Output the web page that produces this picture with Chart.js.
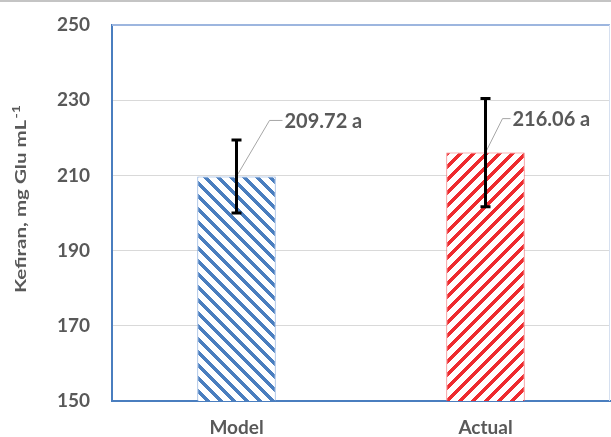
<!DOCTYPE html>
<html>
<head>
<meta charset="utf-8">
<script src="https://cdn.jsdelivr.net/npm/chart.js@4.4.1/dist/chart.umd.min.js"></script>
<style>
  html, body { margin: 0; padding: 0; background: #ffffff; }
  #wrap { width: 611px; height: 437px; position: relative; }
</style>
</head>
<body>
<div id="wrap"><canvas id="chart" width="611" height="437"></canvas></div>
<script>
// Kefiran yield: model prediction vs. measured value
const categories = ['Model', 'Actual'];
const kefiranMeans = [209.72, 216.06];
const kefiranSD = [9.7, 14.4];
const groupLetters = ['a', 'a'];
const yTicks = [150, 170, 190, 210, 230, 250];

const axisTitle = 'Kefiran, mg Glu mL';
const axisTitleSup = '-1';

const TEXT = '#595959';
const FONT = 'Lato, "Liberation Sans", sans-serif';

// Hatched fills: "\" stripes in blue, "/" stripes in red
function stripePattern(color, forward) {
  const P = 13, W = 5;
  const c = document.createElement('canvas');
  c.width = P; c.height = P;
  const g = c.getContext('2d');
  g.fillStyle = '#ffffff';
  g.fillRect(0, 0, P, P);
  g.fillStyle = color;
  for (let y = 0; y < P; y++) {
    for (let x = 0; x < P; x++) {
      const k = forward ? (x + y) % P : ((x - y) % P + P) % P;
      if (k < W) g.fillRect(x, y, 1, 1);
    }
  }
  return g.createPattern(c, 'repeat');
}

const fills = [stripePattern('#4a7ebf', false), stripePattern('#ee2b2f', true)];
const borders = ['#7ea4da', '#f26a6d'];

// where each value label sits: elbow of the leader line relative to bar top
const labelPlacement = [
  { dx: 33, dy: -56, run: 13 },
  { dx: 17, dy: -34, run: 8 }
];

const decorations = {
  id: 'decorations',
  beforeDraw(chart) {
    const { ctx, width } = chart;
    ctx.save();
    ctx.fillStyle = '#c4c4c4';
    ctx.fillRect(0, 0, width, 2);
    ctx.restore();
  },
  afterDraw(chart) {
    const { ctx, chartArea: a, scales } = chart;
    const yS = scales.y;
    ctx.save();
    // plot-area frame on top and right
    ctx.strokeStyle = '#9db6df';
    ctx.lineWidth = 2;
    ctx.beginPath();
    ctx.moveTo(a.left, a.top);
    ctx.lineTo(a.right, a.top);
    ctx.stroke();
    ctx.strokeStyle = '#d6e0f0';
    ctx.lineWidth = 1;
    ctx.beginPath();
    ctx.moveTo(a.right - 0.5, a.top);
    ctx.lineTo(a.right - 0.5, a.bottom);
    ctx.stroke();

    const meta = chart.getDatasetMeta(0);
    meta.data.forEach((bar, i) => {
      const x = bar.x;
      const yTop = bar.y;
      const p = labelPlacement[i];
      // leader line
      ctx.strokeStyle = '#a6a6a6';
      ctx.lineWidth = 1;
      ctx.beginPath();
      ctx.moveTo(x, yTop);
      ctx.lineTo(x + p.dx, yTop + p.dy);
      ctx.lineTo(x + p.dx + p.run, yTop + p.dy);
      ctx.stroke();

      // error bar
      const hi = yS.getPixelForValue(kefiranMeans[i] + kefiranSD[i]);
      const lo = yS.getPixelForValue(kefiranMeans[i] - kefiranSD[i]);
      ctx.strokeStyle = '#000000';
      ctx.lineWidth = 3;
      ctx.lineCap = 'butt';
      ctx.beginPath();
      ctx.moveTo(x, hi); ctx.lineTo(x, lo);
      ctx.moveTo(x - 5, hi); ctx.lineTo(x + 5, hi);
      ctx.moveTo(x - 5, lo); ctx.lineTo(x + 5, lo);
      ctx.stroke();

      // value label
      ctx.fillStyle = TEXT;
      ctx.font = 'bold 20px ' + FONT;
      ctx.textAlign = 'left';
      ctx.textBaseline = 'middle';
      ctx.fillText(kefiranMeans[i].toFixed(2) + ' ' + groupLetters[i],
                   x + p.dx + p.run + 2, yTop + p.dy + 1);
    });

    // rotated y-axis title with superscript
    ctx.font = 'bold 16px ' + FONT;
    const w1 = ctx.measureText(axisTitle).width;
    ctx.font = 'bold 11px ' + FONT;
    const w2 = ctx.measureText(axisTitleSup).width;
    const target = 188;
    const sx = target / (w1 + w2 + 1);
    ctx.translate(26, 293);
    ctx.rotate(-Math.PI / 2);
    ctx.scale(sx, 1);
    ctx.fillStyle = TEXT;
    ctx.textAlign = 'left';
    ctx.textBaseline = 'alphabetic';
    ctx.font = 'bold 16px ' + FONT;
    ctx.fillText(axisTitle, 0, 0);
    ctx.font = 'bold 11px ' + FONT;
    ctx.fillText(axisTitleSup, w1 + 1, -6);
    ctx.restore();
  }
};

new Chart(document.getElementById('chart'), {
  type: 'bar',
  data: {
    labels: categories,
    datasets: [{
      data: kefiranMeans,
      backgroundColor: fills,
      borderColor: borders,
      borderWidth: 1,
      categoryPercentage: 1,
      barPercentage: 0.315
    }]
  },
  options: {
    responsive: false,
    animation: false,
    devicePixelRatio: 1,
    layout: { padding: { top: 25, right: 1, left: 0, bottom: 0 } },
    plugins: {
      legend: { display: false },
      tooltip: { enabled: false }
    },
    scales: {
      x: {
        grid: { display: false, drawTicks: false },
        border: { display: true, color: '#4a7ebf', width: 2 },
        ticks: {
          color: TEXT,
          font: { family: FONT, size: 19, weight: 'bold' },
          padding: 15
        },
        afterFit(s) { s.height = 36; s.paddingLeft = 0; s.paddingRight = 0; }
      },
      y: {
        min: 150,
        max: 250,
        afterBuildTicks(s) { s.ticks = yTicks.map(v => ({ value: v })); },
        grid: { color: '#d9d9d9', lineWidth: 1, drawTicks: false },
        border: { display: true, color: '#4a7ebf', width: 2 },
        ticks: {
          color: TEXT,
          font: { family: FONT, size: 19, weight: 'bold' },
          padding: 22
        },
        afterFit(s) { s.width = 112; s.paddingTop = 0; s.paddingBottom = 0; }
      }
    }
  },
  plugins: [decorations]
});
</script>
</body>
</html>
